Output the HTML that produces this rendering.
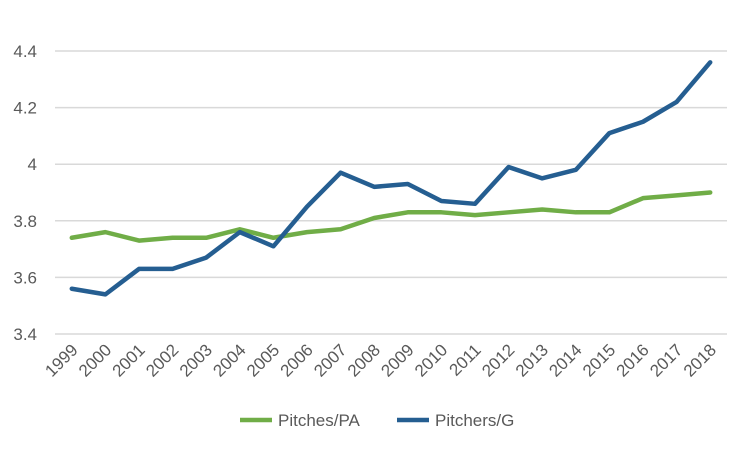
<!DOCTYPE html>
<html><head><meta charset="utf-8"><style>
body{margin:0;background:#fff;}
svg{display:block;font-family:"Liberation Sans",sans-serif;}
</style></head><body>
<svg id="chart" width="750" height="449" viewBox="0 0 750 449"></svg>
<script>
const years=["1999","2000","2001","2002","2003","2004","2005","2006","2007","2008","2009","2010","2011","2012","2013","2014","2015","2016","2017","2018"];
const pitchesPA=[3.74,3.76,3.73,3.74,3.74,3.77,3.74,3.76,3.77,3.81,3.83,3.83,3.82,3.83,3.84,3.83,3.83,3.88,3.89,3.90];
const pitchersG=[3.56,3.54,3.63,3.63,3.67,3.76,3.71,3.85,3.97,3.92,3.93,3.87,3.86,3.99,3.95,3.98,4.11,4.15,4.22,4.36];
const yTicks=[3.4,3.6,3.8,4,4.2,4.4];
const yTickLabels=["3.4","3.6","3.8","4","4.2","4.4"];
const svg=document.getElementById('chart');
const NS='http://www.w3.org/2000/svg';
const yMin=3.4,yMax=4.4,yTop=51,yBot=334,xL=55,xR=727;
const step=(xR-xL)/years.length;
function X(i){return xL+step*(i+0.5);}
function Y(v){return yBot-(v-yMin)/(yMax-yMin)*(yBot-yTop);}
function mk(t,a){const e=document.createElementNS(NS,t);for(const k in a)e.setAttribute(k,a[k]);svg.appendChild(e);return e;}
yTicks.forEach((v,i)=>{
  const l=mk('line',{x1:xL,x2:xR,y1:Y(v),y2:Y(v),stroke:'#d9d9d9','stroke-width':1.5});
  
  
  const t=mk('text',{x:37,y:Y(v)+6,'text-anchor':'end','font-size':17,fill:'#595959'});
  t.textContent=yTickLabels[i];
  
  
});
years.forEach((y,i)=>{
  const x=X(i)+7,yy=351;
  const t=mk('text',{x:x,y:yy,'text-anchor':'end','font-size':17,fill:'#595959',transform:`rotate(-45 ${x} ${yy})`});
  t.textContent=y;
  
  
});
function series(vals,color,name){
  const p=mk('polyline',{points:vals.map((v,i)=>X(i)+','+Y(v)).join(' '),fill:'none',stroke:color,'stroke-width':4.5,'stroke-linejoin':'round','stroke-linecap':'round'});
  
  
}
series(pitchesPA,'#70ad47','pitches-per-pa-line');
series(pitchersG,'#255e91','pitchers-per-game-line');
function legend(x,color,label,name){
  const l=mk('line',{x1:x,x2:x+32,y1:420,y2:420,stroke:color,'stroke-width':4.5});
  
  
  const t=mk('text',{x:x+38,y:426,'font-size':17,fill:'#595959'});
  t.textContent=label;
  
  
}
legend(240,'#70ad47','Pitches/PA','legend-pitches-per-pa');
legend(397,'#255e91','Pitchers/G','legend-pitchers-per-game');
</script>
</body></html>
